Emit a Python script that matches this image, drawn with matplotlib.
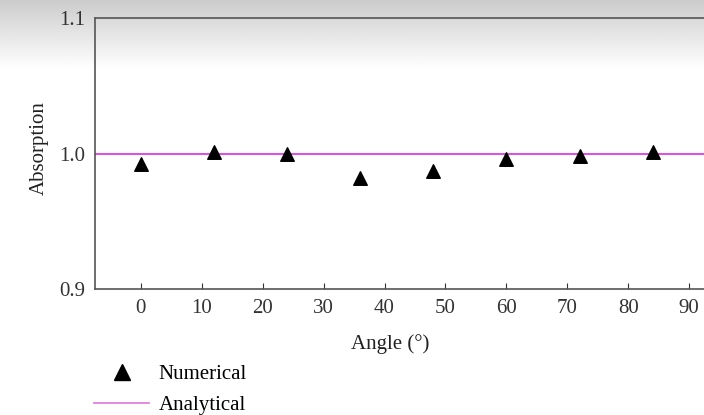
import numpy as np
import matplotlib.pyplot as plt
from matplotlib.lines import Line2D

angle = [0, 12, 24, 36, 48, 60, 72, 84]
absorption = [0.992, 1.001, 1.000, 0.982, 0.987, 0.996, 0.998, 1.001]
analytical = 1.0
xticks = [0, 10, 20, 30, 40, 50, 60, 70, 80, 90]
yticks = [0.9, 1.0, 1.1]

plt.rcParams['font.family'] = ['Liberation Serif', 'DejaVu Serif']

fig = plt.figure(figsize=(7.04, 4.15), dpi=100)

# faint grey band at the top, as in the scan
bg = fig.add_axes([0, 0, 1, 1], zorder=-5)
grad = np.ones((415, 2))
top = np.linspace(0.80, 1.0, 70)
grad[:70, :] = top[:, None]
bg.imshow(grad, cmap='gray', vmin=0, vmax=1, aspect='auto', extent=[0, 1, 0, 1])
bg.axis('off')

ax = fig.add_axes([0.135, 0.3036, 0.87, 0.653])
ax.patch.set_alpha(0)
ax.axhline(analytical, color='#e03ce0', lw=1.3, zorder=1)
ax.scatter(angle, absorption, marker='^', s=95, color='black', zorder=2)

ax.set_xlim(-7.5, 93)
ax.set_ylim(0.9, 1.1)
ax.set_xticks(xticks)
ax.set_yticks(yticks)
ax.set_yticklabels(['0.9', '1.0', '1.1'])
ax.tick_params(direction='in', length=4, labelsize=15, colors='#333333', pad=7)
ax.tick_params(axis='y', length=0, pad=7)
for s in ax.spines.values():
    s.set_color('#555555')
    s.set_linewidth(1.2)
ax.spines['right'].set_visible(False)

ax.set_xlabel('Angle (°)', fontsize=15, color='#222222')
ax.xaxis.set_label_coords(0.482, -0.165)
ax.set_ylabel('Absorption', fontsize=15, color='#222222')
ax.yaxis.set_label_coords(-0.075, 0.52)

handles = [Line2D([], [], marker='^', ls='none', color='black', markersize=11),
           Line2D([], [], color='#e080e0', lw=1.3)]
fig.legend(handles, ['Numerical', 'Analytical'], loc='upper left',
           bbox_to_anchor=(0.122, 0.142), frameon=False, fontsize=15,
           handlelength=2.65, handletextpad=0.45, labelspacing=0.55,
           borderaxespad=0)

fig.savefig('out.png', dpi=100)
